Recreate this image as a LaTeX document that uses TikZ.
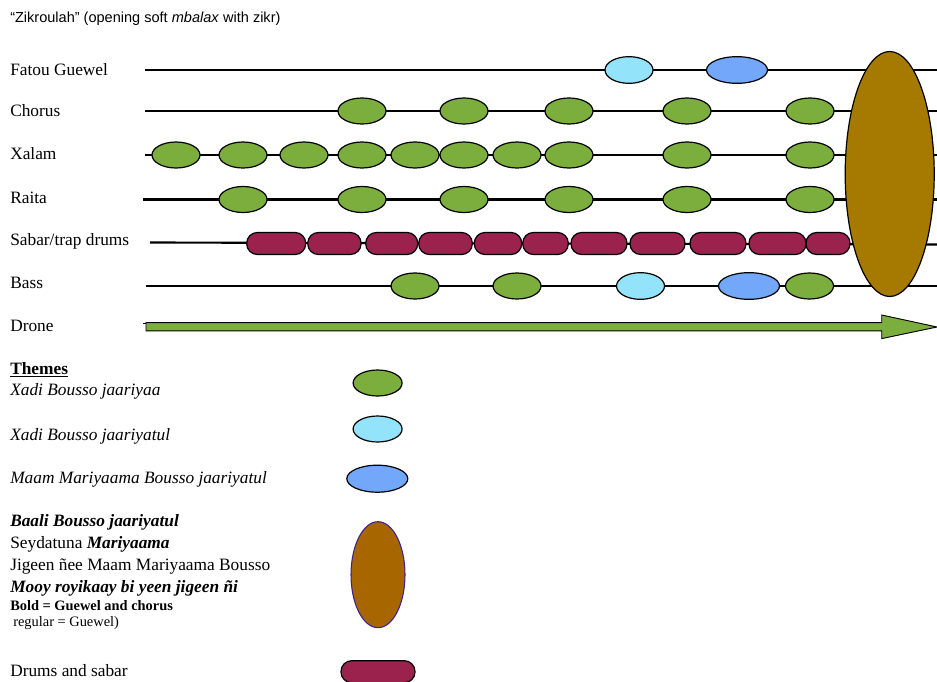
\documentclass[tikz,border=0pt]{standalone}
\usepackage{fontspec}
\setmainfont{Liberation Serif}
\setsansfont{Liberation Sans}
\usetikzlibrary{shapes.geometric}
\definecolor{thgreen}{HTML}{7BAE3C}
\definecolor{thlblue}{HTML}{93E3FB}
\definecolor{thblue}{HTML}{72A7FA}
\definecolor{drumcol}{HTML}{9A224C}
\definecolor{bigbrown}{HTML}{A67A00}
\definecolor{legbrown}{HTML}{A86600}
\definecolor{legedge}{HTML}{3B2290}
\begin{document}
\begin{tikzpicture}[x=0.75pt,y=-0.75pt,
 tl/.style={line width=1.6pt},
 lab/.style={anchor=base west, inner sep=0pt, font=\fontsize{13}{15}\selectfont},
 smalllab/.style={anchor=base west, inner sep=0pt, font=\fontsize{10.8}{12}\selectfont},
 th/.style={ellipse, draw, line width=0.9pt, inner sep=0pt, minimum height=20pt},
 thg/.style={th, fill=thgreen, minimum width=36pt, minimum height=19.5pt},
 thlb/.style={th, fill=thlblue, minimum width=36pt},
 thbl/.style={th, fill=thblue, minimum width=45.75pt},
 drumbox/.style={draw, line width=0.9pt, fill=drumcol, rounded corners=8pt, inner sep=0pt, minimum height=16.5pt},
]
\useasboundingbox (0,0) rectangle (937,681);
\clip (0,0) rectangle (937,681);

% title
\node[anchor=base west, inner sep=0pt, font=\sffamily\fontsize{10.9}{12}\selectfont] (title) at (10,22.7) {“Zikroulah” (opening soft \textit{mbalax} with zikr)};

% row labels
\node[lab] (lfg) at (10,75.7) {Fatou Guewel};
\node[lab] (lch) at (10,116.5) {Chorus};
\node[lab] (lxa) at (10,159.5) {Xalam};
\node[lab] (lra) at (10,203) {Raita};
\node[lab] (lsa) at (10,245.5) {Sabar/trap drums};
\node[lab] (lba) at (10,288) {Bass};
\node[lab] (ldr) at (10,331) {Drone};

% timelines
\coordinate (fgS) at (145,70);   \coordinate (fgE) at (937,70);
\coordinate (chS) at (145,111);  \coordinate (chE) at (937,111);
\coordinate (xaS) at (145,155);  \coordinate (xaE) at (937,155);
\coordinate (raS) at (143,199.5);\coordinate (raE) at (937,199.5);
\coordinate (saS) at (150,242.5);\coordinate (saE) at (937,244.5);
\coordinate (baS) at (146,286);  \coordinate (baE) at (937,286);
\draw[tl] (fgS) -- (fgE);
\draw[tl] (chS) -- (chE);
\draw[tl] (xaS) -- (xaE);
\draw[tl] (raS) -- (raE);
\draw[tl] (saS) -- (saE);
\draw[tl] (baS) -- (baE);

% Fatou Guewel
\node[thlb] (fg1) at (629,70) {};
\node[thbl] (fg2) at (737,70) {};

% Chorus
\foreach \x/\n in {362/1,464/2,569/3,687/4,810/5}
  \node[thg] (ch\n) at (\x,111) {};

% Xalam
\foreach \x/\n in {176/1,243/2,304/3,362/4,415/5,464/6,517/7,569/8,687/9,810/10}
  \node[thg] (xa\n) at (\x,155) {};

% Raita
\foreach \x/\n in {243/1,362/2,464/3,569/4,687/5,810/6}
  \node[thg] (ra\n) at (\x,199.5) {};

% Sabar / trap drums
\foreach \x/\w/\n in {276.2/44.25pt/1,334.4/40pt/2,391.7/39pt/3,445.5/40.2pt/4,498/35.55pt/5,545.5/34.2pt/6,599/42pt/7,657.5/41.25pt/8,718/42pt/9,777.5/42.75pt/10,828/33pt/11}
  \node[drumbox, minimum width=\w] (sa\n) at (\x,243.5) {};

% Bass
\node[thg] (ba1) at (415,286) {};
\node[thg] (ba2) at (517,286) {};
\node[thlb] (ba3) at (640.5,286) {};
\node[thbl] (ba4) at (749,286) {};
\node[thg] (ba5) at (809.5,286) {};

% Drone arrow
\draw[line width=1pt] (143,323.5) -- (148,323.5);
\draw[fill=thgreen, line width=0.7pt, line join=miter]
  (146,322.7) -- (881.7,322.7) -- (881.7,315) -- (937,327) -- (881.7,338.6) -- (881.7,330.9) -- (146,330.9) -- cycle;

% big theme ellipse
\node[ellipse, draw, line width=0.9pt, fill=bigbrown, inner sep=0pt, minimum width=66.75pt, minimum height=183.75pt] (big) at (889.7,174) {};

% legend
\node[lab] (lth) at (10,374.5) {\underline{\textbf{Themes}}};
\node[lab] (lt1) at (10,395.5) {\textit{Xadi Bousso jaariyaa}};
\node[lab] (lt2) at (10,440) {\textit{Xadi Bousso jaariyatul}};
\node[lab] (lt3) at (10,483) {\textit{Maam Mariyaama Bousso jaariyatul}};
\node[lab] (lt4) at (10,526.5) {\textbf{\textit{Baali Bousso jaariyatul}}};
\node[lab] (lt5) at (10,548) {Seydatuna \textbf{\textit{Mariyaama}}};
\node[lab] (lt6) at (10,570) {Jigeen ñee Maam Mariyaama Bousso};
\node[lab] (lt7) at (10,592) {\textbf{\textit{Mooy royikaay bi yeen jigeen ñi}}};
\node[smalllab] (lt8) at (10,610) {\textbf{Bold = Guewel and chorus}};
\node[smalllab] (lt9) at (13,626) {regular = Guewel)};
\node[lab] (lt10) at (10,676.5) {Drums and sabar};

\node[thg, minimum width=36.75pt] (kg) at (377.6,383) {};
\node[thlb, minimum width=36.75pt, minimum height=19.5pt] (klb) at (377.6,429) {};
\node[thbl, minimum height=20.25pt] (kbl) at (377.3,478.7) {};
\node[ellipse, draw=legedge, line width=0.8pt, fill=legbrown, inner sep=0pt, minimum width=40.5pt, minimum height=79.5pt] (kbr) at (378,574.7) {};
\node[drumbox, minimum width=55.5pt] (kdr) at (378,671.7) {};
\end{tikzpicture}
\end{document}
